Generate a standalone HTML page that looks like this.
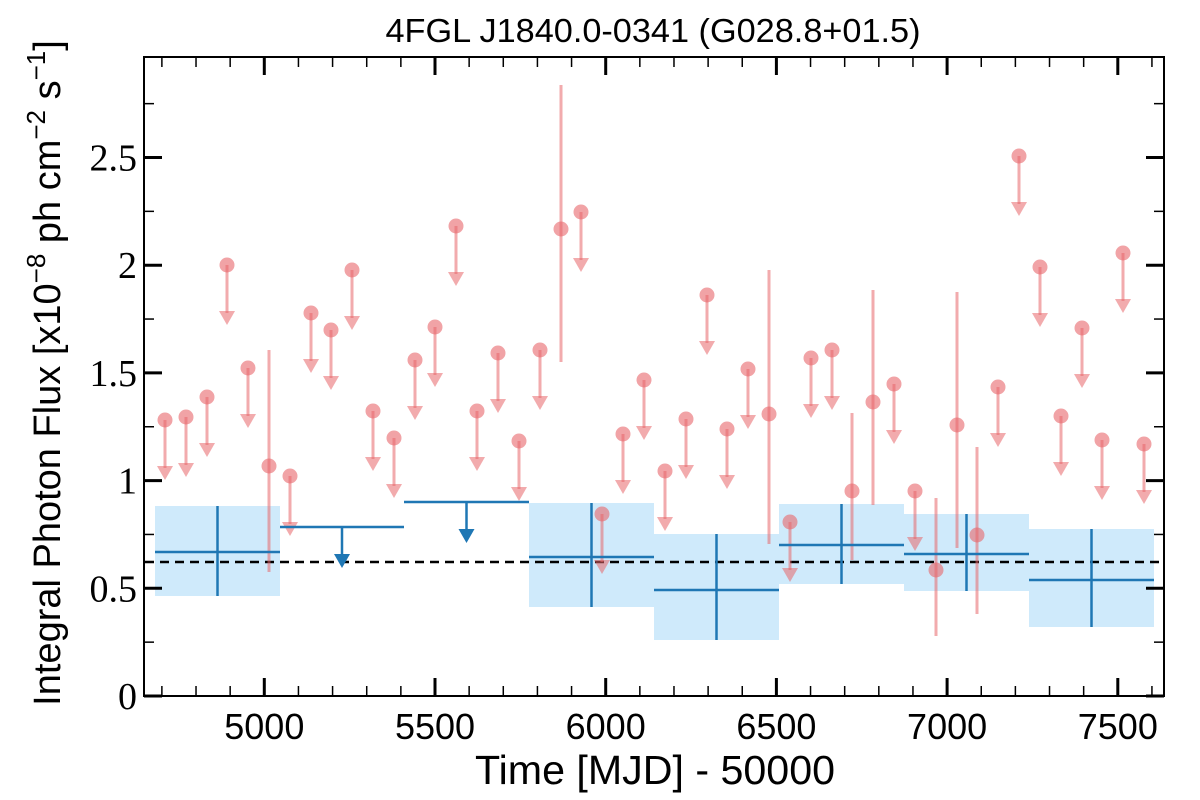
<!DOCTYPE html>
<html><head><meta charset="utf-8"><style>
html,body{margin:0;padding:0;background:#fff;width:1200px;height:800px;overflow:hidden}
</style></head><body>
<svg id="s" width="1200" height="800" xmlns="http://www.w3.org/2000/svg" font-family="Liberation Sans, sans-serif">
<text x="653" y="42" font-size="33" text-anchor="middle" textLength="535" lengthAdjust="spacingAndGlyphs">4FGL J1840.0-0341 (G028.8+01.5)</text>
<text x="655" y="784" font-size="41" text-anchor="middle" textLength="360" lengthAdjust="spacingAndGlyphs">Time [MJD] - 50000</text>
<text transform="translate(60,373) rotate(-90)" font-size="38" text-anchor="middle">Integral Photon Flux [x10<tspan dy="-15" font-size="26">−8</tspan><tspan dy="15"> ph cm</tspan><tspan dy="-15" font-size="26">−2</tspan><tspan dy="15"> s</tspan><tspan dy="-15" font-size="26">−1</tspan><tspan dy="15">]</tspan></text>
<g id="g"></g>
</svg>
<script>
var g=document.getElementById('g'),h='';
function X(t){return 264.3+(t-5000)*0.3414}
function Y(v){return 696-v*215.4}
var bins=[[155,280,552,506,596,0],[280,404,527,0,0,1],[404,529,502,0,0,1],[529,654,557,503,607,0],[654,779,590,534,640,0],[779,904,545,504,584,0],[904,1029,554,514,591,0],[1029,1154,580,529,627,0]];
bins.forEach(function(b){if(!b[5])h+='<rect x="'+b[0]+'" y="'+b[3]+'" width="'+(b[1]-b[0])+'" height="'+(b[4]-b[3])+'" fill="#cfeafb"/>';});
h+='<line x1="145" x2="1163" y1="562" y2="562" stroke="#000" stroke-width="2.5" stroke-dasharray="9,6"/>';
var r=[[165,420],[186,417],[207,397],[227,265],[248,368],[269,466,350,572],[290,476],[311,313],[331,330],[352,270],[373,411],[394,438],[415,360],[435,327],[456,226],[477,411],[498,353],[519,441],[540,350],[561,229,85,362],[581,212],[602,514],[623,434],[644,380],[665,471],[686,419],[707,295],[727,429],[748,369],[769,414,270,544],[790,522],[811,358],[832,350],[852,491,413,560],[873,402,290,505],[894,384],[915,491],[936,570,498,636],[957,425,292,548],[977,535,447,614],[998,387],[1019,156],[1040,267],[1061,416],[1082,328],[1102,440],[1123,253],[1144,444]];
var rc='#e8666a';
r.forEach(function(p){var x=p[0],y=p[1];
 if(p.length>2){h+='<line x1="'+x+'" x2="'+x+'" y1="'+p[2]+'" y2="'+p[3]+'" stroke="'+rc+'" stroke-opacity="0.55" stroke-width="3"/>';}
 else{h+='<line x1="'+x+'" x2="'+x+'" y1="'+y+'" y2="'+(y+48)+'" stroke="'+rc+'" stroke-opacity="0.55" stroke-width="3"/>';
  h+='<polygon points="'+(x-8)+','+(y+46)+' '+(x+8)+','+(y+46)+' '+x+','+(y+60)+'" fill="'+rc+'" fill-opacity="0.55"/>';}
 h+='<circle cx="'+x+'" cy="'+y+'" r="7.5" fill="'+rc+'" fill-opacity="0.6"/>';});
var bc='#1f77b4';
bins.forEach(function(b){var cx=(b[0]+b[1])/2;
 h+='<line x1="'+b[0]+'" x2="'+b[1]+'" y1="'+b[2]+'" y2="'+b[2]+'" stroke="'+bc+'" stroke-width="2.5"/>';
 if(!b[5])h+='<line x1="'+cx+'" x2="'+cx+'" y1="'+b[3]+'" y2="'+b[4]+'" stroke="'+bc+'" stroke-width="2.5"/>';
 else{h+='<line x1="'+cx+'" x2="'+cx+'" y1="'+b[2]+'" y2="'+(b[2]+30)+'" stroke="'+bc+'" stroke-width="2.5"/><polygon points="'+(cx-8)+','+(b[2]+27)+' '+(cx+8)+','+(b[2]+27)+' '+cx+','+(b[2]+41)+'" fill="'+bc+'"/>';}});
h+='<rect x="144" y="57" width="1020" height="639" fill="none" stroke="#000" stroke-width="2"/>';
for(var t=4700;t<=7600;t+=100){var x=X(t),M=t%500==0,L=M?18:10;
 h+='<line x1="'+x+'" x2="'+x+'" y1="696" y2="'+(696-L)+'" stroke="#000" stroke-width="'+(M?3:1.5)+'"/>';
 h+='<line x1="'+x+'" x2="'+x+'" y1="57" y2="'+(57+L)+'" stroke="#000" stroke-width="'+(M?3:1.5)+'"/>';
 if(M)h+='<text x="'+x+'" y="739" font-size="36" text-anchor="middle">'+t+'</text>';}
for(var i=0;i<=11;i++){var v=i*0.25,y=Y(v),M=i%2==0,L=M?18:10;
 h+='<line x1="144" x2="'+(144+L)+'" y1="'+y+'" y2="'+y+'" stroke="#000" stroke-width="'+(M?3:1.5)+'"/>';
 h+='<line x1="1164" x2="'+(1164-L)+'" y1="'+y+'" y2="'+y+'" stroke="#000" stroke-width="'+(M?3:1.5)+'"/>';
 if(M)h+='<text x="137" y="'+(y+13)+'" font-size="38" text-anchor="end" font-family="Liberation Serif, serif">'+(v==0?'0':String(v))+'</text>';}
g.innerHTML=h;
</script>
</body></html>
